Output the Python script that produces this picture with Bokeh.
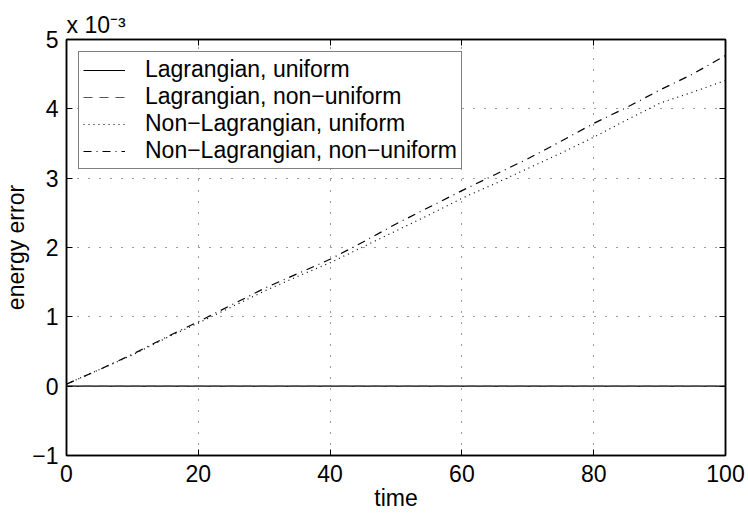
from bokeh.plotting import figure
from bokeh.models import (Range1d, LinearAxis, FixedTicker, Legend, LegendItem, Title)
from bokeh.embed import file_html
from bokeh.resources import INLINE

# ---- data ----
time = [0, 5, 10, 15, 20, 25, 30, 35, 40, 45, 50, 55, 60, 65, 70, 75, 80, 85, 90, 95, 100]
lag_uniform = [0.0] * len(time)
lag_nonuniform = [0.0] * len(time)
nonlag_uniform = [0.03, 0.24, 0.45, 0.69, 0.91, 1.14, 1.37, 1.58, 1.78, 2.01, 2.24,
                  2.47, 2.71, 2.92, 3.14, 3.36, 3.59, 3.84, 4.08, 4.24, 4.41]
nonlag_nonuniform = [0.03, 0.24, 0.46, 0.70, 0.93, 1.17, 1.41, 1.62, 1.83, 2.08, 2.34,
                     2.58, 2.82, 3.05, 3.28, 3.53, 3.79, 4.02, 4.27, 4.50, 4.77]
x_ticks = [0, 20, 40, 60, 80, 100]
y_ticks = [-1, 0, 1, 2, 3, 4, 5]
series_names = ["Lagrangian, uniform", "Lagrangian, non\u2212uniform",
                "Non\u2212Lagrangian, uniform", "Non\u2212Lagrangian, non\u2212uniform"]
scale_text = "x 10\u207b\u00b3"

FONT = "Liberation Sans"
FS = "23px"

p = figure(width=748, height=517, output_backend="svg", toolbar_location=None,
           x_range=Range1d(0, 100), y_range=Range1d(-1, 5),
           min_border_left=66, min_border_right=23, min_border_top=39, min_border_bottom=62)
p.background_fill_color = "white"
p.border_fill_color = "white"
p.outline_line_color = "black"
p.outline_line_width = 1.5

def style_axis(ax, labels=True):
    ax.axis_line_color = "black"
    ax.axis_line_width = 1.5
    ax.major_tick_in = 6
    ax.major_tick_out = 0
    ax.minor_tick_in = 0
    ax.minor_tick_out = 0
    ax.major_tick_line_color = "black"
    ax.major_label_text_font = FONT
    ax.major_label_text_font_size = FS
    ax.major_label_text_color = "black"
    ax.axis_label_text_font = FONT
    ax.axis_label_text_font_size = FS
    ax.axis_label_text_font_style = "normal"
    ax.axis_label_text_color = "black"
    if not labels:
        ax.major_label_text_font_size = "0px"
        ax.major_label_text_alpha = 0
        ax.major_label_standoff = 0

p.xaxis.ticker = FixedTicker(ticks=x_ticks)
p.yaxis.ticker = FixedTicker(ticks=y_ticks)
p.yaxis.major_label_overrides = {t: (str(t).replace("-", "\u2212")) for t in y_ticks}
style_axis(p.xaxis[0])
style_axis(p.yaxis[0])
p.xaxis.axis_label = "time"
p.yaxis.axis_label = "energy error"
p.xaxis.major_label_standoff = 9
p.xaxis.axis_label_standoff = 0
p.yaxis.major_label_standoff = 8
p.yaxis.axis_label_standoff = 0

top = LinearAxis(ticker=FixedTicker(ticks=x_ticks))
right = LinearAxis(ticker=FixedTicker(ticks=y_ticks))
style_axis(top, labels=False)
style_axis(right, labels=False)
p.add_layout(top, "above")
p.add_layout(right, "right")

p.xgrid[0].ticker = FixedTicker(ticks=x_ticks)
p.ygrid[0].ticker = FixedTicker(ticks=y_ticks)
for g in (p.xgrid[0], p.ygrid[0]):
    g.grid_line_color = "#222222"
    g.grid_line_dash = "1 10"
    g.grid_line_width = 1
    g.grid_line_alpha = 0.9

r1 = p.line(time, lag_uniform, line_color="black", line_width=1.2)
r2 = p.line(time, lag_nonuniform, line_color="#555555", line_width=1.2, line_dash="9 7")
r3 = p.line(time, nonlag_uniform, line_color="black", line_width=1.2, line_dash="1 4")
r4 = p.line(time, nonlag_nonuniform, line_color="black", line_width=1.2, line_dash="8 5 1 5")

legend = Legend(items=[LegendItem(label=n, renderers=[r]) for n, r in
                       zip(series_names, [r1, r2, r3, r4])],
                location="top_left")
legend.margin = 12
legend.padding = 4
legend.spacing = 0
legend.glyph_width = 42
legend.glyph_height = 26
legend.label_height = 26
legend.label_standoff = 20
legend.label_text_font = FONT
legend.label_text_font_size = FS
legend.label_text_color = "black"
legend.border_line_color = "black"
legend.border_line_width = 1.5
legend.background_fill_color = "white"
legend.background_fill_alpha = 1
p.add_layout(legend, "center")

title = Title(text=scale_text, align="left", text_font=FONT, text_font_size=FS,
              text_font_style="normal", text_color="black", standoff=4)
p.add_layout(title, "above")

open("out.html", "w").write(file_html(p, INLINE))
